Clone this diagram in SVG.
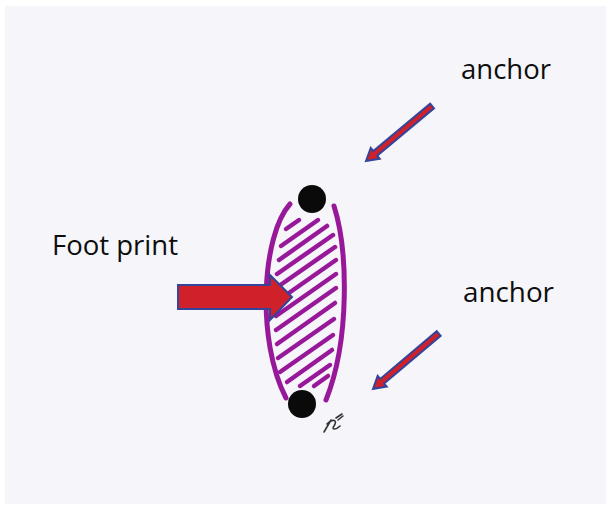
<svg xmlns="http://www.w3.org/2000/svg" width="611" height="507" viewBox="0 0 611 507">
  <style>
    .lbl { font-family: "Open Sans", "Noto Sans", "Liberation Sans", sans-serif; fill: #0d0d0d; }
    .purple { fill: none; stroke: #98189a; stroke-width: 5; stroke-linecap: round; }
    .hatch { fill: none; stroke: #98189a; stroke-width: 4.5; stroke-linecap: round; }
    .redarrow { fill: #d0202a; stroke: #34449a; stroke-width: 2; stroke-linejoin: miter; }
    .dot { fill: #0a0a0a; }
  </style>
  <defs>
    <polygon id="smallArrow" class="redarrow" points="0,0 12,-7 12,-3 86,-3 86,3 12,3 12,7"/>
  </defs>
  <rect x="0" y="0" width="611" height="507" fill="#ffffff"/>
  <rect x="5" y="6" width="601" height="498" fill="#f5f5fa"/>

  <g id="footprint">
    <path class="purple" d="M290,204 C262,235 256,340 286,398"/>
    <path class="purple" d="M334,206 C348,250 350,340 326,400"/>
    <g class="hatch">
      <line x1="286" y1="229" x2="299" y2="220"/>
      <line x1="281" y1="246" x2="318" y2="220"/>
      <line x1="279" y1="260" x2="327" y2="226"/>
      <line x1="277" y1="274" x2="333" y2="235"/>
      <line x1="276" y1="288" x2="335" y2="247"/>
      <line x1="276" y1="302" x2="336" y2="260"/>
      <line x1="276" y1="316" x2="336" y2="274"/>
      <line x1="276" y1="330" x2="336" y2="288"/>
      <line x1="277" y1="344" x2="335" y2="303"/>
      <line x1="278" y1="358" x2="334" y2="319"/>
      <line x1="280" y1="372" x2="333" y2="335"/>
      <line x1="287" y1="382" x2="332" y2="350"/>
      <line x1="300" y1="386" x2="330" y2="365"/>
      <line x1="314" y1="386" x2="328" y2="376"/>
    </g>
  </g>

  <g id="anchor-top-node">
    <circle class="dot" cx="312" cy="199" r="14"/>
  </g>
  <g id="anchor-bottom-node">
    <circle class="dot" cx="302" cy="404" r="14"/>
  </g>

  <g id="signature" fill="none" stroke="#333" stroke-width="1.6" stroke-linecap="round">
    <path d="M324,432 L331,420 M327,424 C333,418 338,420 334,426 C331,430 336,430 340,426 M336,418 L342,414 M338,420 L343,416"/>
  </g>

  <g id="labels">
    <text class="lbl" x="461" y="79" font-size="27" textLength="90" lengthAdjust="spacingAndGlyphs">anchor</text>
    <text class="lbl" x="463" y="302" font-size="27" textLength="91" lengthAdjust="spacingAndGlyphs">anchor</text>
    <text class="lbl" x="52" y="255" font-size="28" textLength="126" lengthAdjust="spacingAndGlyphs">Foot print</text>
  </g>

  <g id="connectors">
    <polygon class="redarrow" points="178,285 270,285 270,275 292,297 270,320 270,309 178,309"/>
    <use href="#smallArrow" transform="translate(366,161) rotate(-39.8)"/>
    <use href="#smallArrow" transform="translate(373,389) rotate(-40.2)"/>
  </g>
</svg>
